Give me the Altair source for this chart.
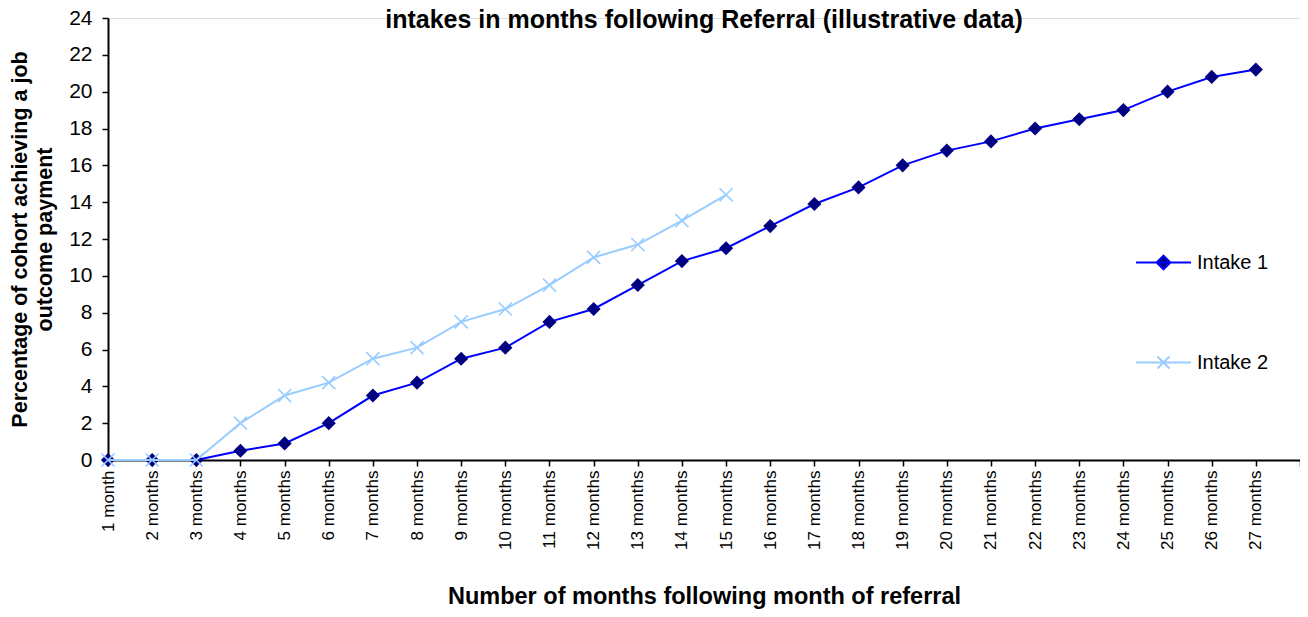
import json
import altair as alt
import pandas as pd

# ---- data -------------------------------------------------------------
month_numbers = [1, 2, 3, 4, 5, 6, 7, 8, 9, 10, 11, 12, 13, 14, 15, 16, 17, 18,
                 19, 20, 21, 22, 23, 24, 25, 26, 27]
month_labels = ["1 month", "2 months", "3 months", "4 months", "5 months",
                "6 months", "7 months", "8 months", "9 months", "10 months",
                "11 months", "12 months", "13 months", "14 months", "15 months",
                "16 months", "17 months", "18 months", "19 months", "20 months",
                "21 months", "22 months", "23 months", "24 months", "25 months",
                "26 months", "27 months"]
intake1 = [0, 0, 0, 0.5, 0.9, 2.0, 3.5, 4.2, 5.5, 6.1, 7.5, 8.2, 9.5, 10.8,
           11.5, 12.7, 13.9, 14.8, 16.0, 16.8, 17.3, 18.0, 18.5, 19.0, 20.0,
           20.8, 21.2]
intake2 = [0, 0, 0, 2.0, 3.5, 4.2, 5.5, 6.1, 7.5, 8.2, 9.5, 11.0, 11.7, 13.0,
           14.4]
series_names = ["Intake 1", "Intake 2"]
y_ticks = [0, 2, 4, 6, 8, 10, 12, 14, 16, 18, 20, 22, 24]

rows = []
for m, v in zip(month_numbers, intake1):
    rows.append({"month": m, "series": "Intake 1", "value": v})
for m, v in zip(month_numbers, intake2):
    rows.append({"month": m, "series": "Intake 2", "value": v})
df = pd.DataFrame(rows)

FONT = "Liberation Sans"
LINE1 = "#0000FF"
MARK1 = "#000080"
LINE2 = "#99CCFF"
X_PATH = "M-1,-1L1,1M-1,1L1,-1"
LEG1 = "M-1,0L1,0M0,-0.25L0.25,0L0,0.25L-0.25,0Z"
LEG2 = "M-1,0L1,0M-0.22,-0.22L0.22,0.22M-0.22,0.22L0.22,-0.22"

label_expr = "(" + json.dumps(month_labels + [""]) + ")[datum.value - 1]"

x_enc = alt.X(
    "month:Q",
    scale=alt.Scale(domain=[1, 28], nice=False, zero=False),
    axis=alt.Axis(
        values=month_numbers + [28],
        labelExpr=label_expr,
        labelAngle=-90,
        labelFontSize=17,
        labelFont=FONT,
        labelColor="black",
        labelPadding=4,
        tickSize=6,
        tickColor="black",
        tickWidth=1.5,
        domainColor="black",
        domainWidth=2,
        grid=False,
        title="Number of months following month of referral",
        titleFont=FONT,
        titleFontSize=23.5,
        titleFontWeight="bold",
        titleColor="black",
        titlePadding=35,
    ),
)
y_enc = alt.Y(
    "value:Q",
    scale=alt.Scale(domain=[0, 24], nice=False),
    axis=alt.Axis(
        values=y_ticks,
        labelFontSize=21,
        labelFont=FONT,
        labelColor="black",
        labelPadding=10,
        tickSize=6,
        tickColor="black",
        tickWidth=1.5,
        domainColor="black",
        domainWidth=2,
        grid=False,
        title=["Percentage of cohort achieving a job", "outcome payment"],
        titleFont=FONT,
        titleFontSize=21.5,
        titleFontWeight="bold",
        titleColor="black",
        titleLineHeight=25,
        titlePadding=12,
    ),
)

base = alt.Chart(df)

line1 = base.transform_filter("datum.series == 'Intake 1'").mark_line(
    color=LINE1, strokeWidth=2).encode(x=x_enc, y=y_enc)
pts1 = base.transform_filter("datum.series == 'Intake 1'").mark_point(
    shape="diamond", filled=True, color=MARK1, size=200, opacity=1
).encode(x=x_enc, y=y_enc)
line2 = base.transform_filter("datum.series == 'Intake 2'").mark_line(
    color=LINE2, strokeWidth=2).encode(x=x_enc, y=y_enc)
pts2 = base.transform_filter("datum.series == 'Intake 2'").mark_point(
    shape=X_PATH, filled=False, color=LINE2, size=170, strokeWidth=1.6, opacity=1
).encode(x=x_enc, y=y_enc)

leg = alt.Legend(
    orient="none", legendX=1027, legendY=216, direction="vertical",
    title=None, padding=0, rowPadding=60, labelFont=FONT, labelFontSize=20,
    labelColor="black", labelOffset=5, symbolSize=3025, symbolStrokeWidth=2,
    symbolOpacity=1,
)
legend_layer = base.transform_filter("false").mark_point(opacity=1).encode(
    x=x_enc, y=y_enc,
    shape=alt.Shape("series:N", scale=alt.Scale(domain=series_names, range=[LEG1, LEG2]), legend=leg),
    fill=alt.Fill("series:N", scale=alt.Scale(domain=series_names, range=[MARK1, "transparent"]), legend=leg),
    stroke=alt.Stroke("series:N", scale=alt.Scale(domain=series_names, range=[LINE1, LINE2]), legend=leg),
)

chart = alt.layer(line1, pts1, line2, pts2, legend_layer).properties(
    width=1192,
    height=442,
    title=alt.TitleParams(
        "intakes in months following Referral (illustrative data)",
        font=FONT, fontSize=25, fontWeight="bold", color="black",
        anchor="middle", frame="group", offset=-26,
    ),
    autosize=alt.AutoSizeParams(type="none"),
    padding={"left": 100, "top": 10, "right": 0, "bottom": 149},
).configure_view(stroke=None).configure(background="white")

chart.save("out.html", embed_options={"renderer": "svg", "actions": False})
